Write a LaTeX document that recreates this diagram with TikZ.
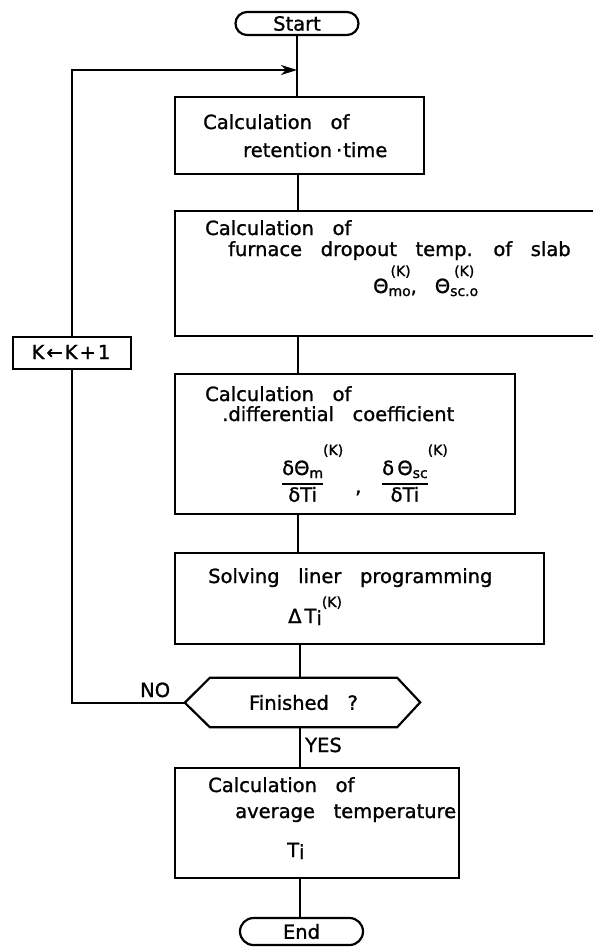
\documentclass[tikz,border=0pt]{standalone}
\usepackage{fontspec}
\setmainfont{DejaVu Sans}[WordSpace=3, FakeBold=1.2]
\usetikzlibrary{shapes.misc,arrows.meta}
\newcommand\mainfnt{\fontsize{19.5}{23}\selectfont}
\newcommand\subfnt{\fontsize{14}{16}\selectfont}
% superscript "(K)" raised by #1 above the baseline
\newcommand\kup[1][19pt]{\raisebox{#1}{\subfnt(K)}}
% lowered index in the small size
\newcommand\lowsub[1]{\raisebox{-3pt}{\subfnt #1}}
% stacked fraction with a heavy bar; its baseline is the numerator's
\newcommand\frc[2]{\begin{tabular}[t]{@{}c@{}}#1\\[1pt]\noalign{\hrule height 1.8pt}\rule{0pt}{17pt}#2\end{tabular}}
\begin{document}
\begin{tikzpicture}[x=1pt,y=-1pt,
  every node/.style={font=\mainfnt},
  conn/.style={line width=2.2pt},
  box/.style={draw, line width=2.2pt, inner sep=0pt, anchor=north west},
  pill/.style={draw, line width=2.2pt, rounded rectangle, inner sep=0pt,
               minimum width=123pt},
  lbl/.style={anchor=base west, inner sep=0pt}]
\clip (0,0) rectangle (593,948);

% terminals
\node[pill, minimum height=23pt] (start) at (297,23.5) {Start};
\node[pill, minimum height=27pt] (end) at (301.5,931.5) {End};

% process boxes
\node[box, minimum width=249pt, minimum height=77pt]  (b1) at (174,96) {};
\node[box, minimum width=466pt, minimum height=125pt] (b2) at (174,210) {};
\node[box, minimum width=340pt, minimum height=140pt] (b3) at (174,373) {};
\node[box, minimum width=369pt, minimum height=91pt]  (b4) at (174,552) {};
\node[box, minimum width=284pt, minimum height=110pt] (b5) at (174,767) {};
\node[box, minimum width=118pt, minimum height=32pt]  (kbox) at (12,336) {};
\node (kinc) at (71,352) {K\hspace{2pt}←\hspace{2pt}K\hspace{2pt}+\hspace{2pt}1};

% decision
\node[inner sep=0pt, minimum width=187pt, minimum height=49pt] (hex) at (303.5,702.5) {Finished ?};
\draw[conn, line join=miter] (hex.north west) -- (hex.north east) -- ++(23,24.5)
  -- (hex.south east) -- (hex.south west) -- ++(-25,-24.5) coordinate (hexL) -- cycle;

% box texts
\node[lbl] (t11) at (203,129) {Calculation of};
\node[lbl] (t12) at (243,157) {retention\hspace{4pt}·\hspace{1pt}time};

\node[lbl] (t21) at (205,235) {Calculation of};
\node[lbl] (t22) at (228,256) {furnace dropout temp. of slab};
\node[lbl] (t23) at (373,293) {Θ\makebox[0pt][l]{\lowsub{mo}}\hspace{2pt}\kup[17pt],\hspace{18pt}Θ\makebox[0pt][l]{\lowsub{sc.o}}\hspace{4pt}\kup[17pt]};

\node[lbl] (t31) at (205,401) {Calculation of};
\node[lbl] (t32) at (222,421) {.differential coefficient};
\node[lbl] (f1) at (282,475) {\frc{δΘ\lowsub{m}}{δTi}\kup[20pt]};
\node[lbl] (fc) at (355,493) {,};
\node[lbl] (f2) at (382,475) {\frc{δ\,Θ\lowsub{sc}}{δTi}\kup[20pt]};

\node[lbl] (t41) at (208,583) {Solving liner programming};
\node[lbl] (t42) at (288,623) {Δ\hspace{3pt}T\raisebox{-2pt}{i}\kup[16pt]};

\node[lbl] (t51) at (208,792) {Calculation of};
\node[lbl] (t52) at (235,818) {average temperature};
\node[lbl] (t53) at (287,857) {T\raisebox{-2pt}{i}};

% branch labels
\node[lbl] (no)  at (140,697) {NO};
\node[lbl] (yes) at (305,752) {YES};

% main flow
\coordinate (col) at (298,0);
\coordinate (col2) at (300,0);
\draw[conn] (start.south) -- (start.south |- b1.north);
\draw[conn] (col |- b1.south) -- (col |- b2.north);
\draw[conn] (col |- b2.south) -- (col |- b3.north);
\draw[conn] (col |- b3.south) -- (col |- b4.north);
\draw[conn] (col2 |- b4.south) -- (col2 |- hex.north);
\draw[conn] (col2 |- hex.south) -- (col2 |- b5.north);
\draw[conn] (col2 |- b5.south) -- (col2 |- end.north);

% iteration loop
\coordinate (merge) at (297,70);
\draw[conn] (hexL) -- (hexL -| kbox.south) -- (kbox.south);
\draw[conn, -{Stealth[length=16pt,width=10pt,inset=5pt]}] (kbox.north) |- (merge);
\end{tikzpicture}
\end{document}
